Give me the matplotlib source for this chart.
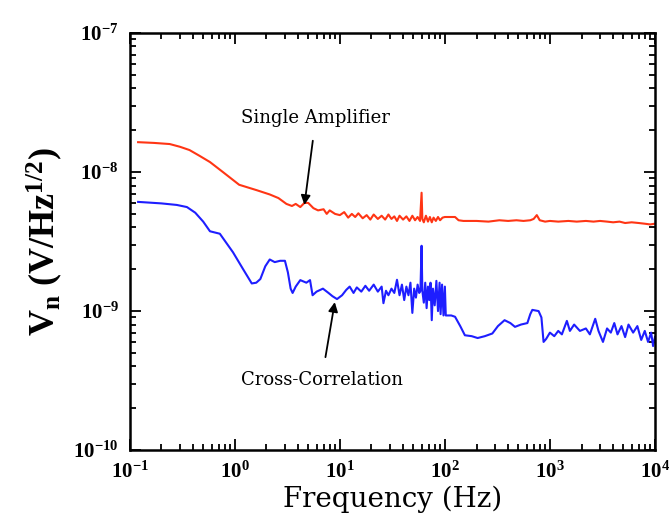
import math
import matplotlib
matplotlib.use('Agg')
import matplotlib.pyplot as plt
from matplotlib.ticker import LogLocator, FuncFormatter, NullFormatter

# Data (frequency in Hz, noise in V/Hz^1/2)
single_f = [0.12, 0.17, 0.24, 0.3, 0.37, 0.46, 0.58, 0.77, 1.1, 1.62, 2.15, 2.6, 3.1,
            3.5, 3.8, 4.2, 4.6, 5.0, 5.6, 6.2, 7.0, 7.5, 8.0, 9.0, 10, 11, 12, 13, 14,
            15, 16.5, 18, 19.5, 21, 23, 25, 27, 29, 31, 33, 35, 37, 40, 43, 46, 49, 52,
            55, 58, 60, 61, 63, 66, 69, 72, 75, 78, 82, 86, 90, 95, 100, 110, 125, 135,
            150, 200, 260, 330, 400, 480, 560, 650, 700, 750, 800, 900, 1000, 1200, 1500,
            1800, 2200, 2600, 3000, 3500, 4000, 4600, 5200, 6000, 7000, 8000, 9000, 10000]
single_v = [1.64e-8, 1.62e-8, 1.59e-8, 1.52e-8, 1.44e-8, 1.31e-8, 1.18e-8, 1.0e-8,
            8.1e-9, 7.4e-9, 6.9e-9, 6.5e-9, 5.9e-9, 5.7e-9, 5.9e-9, 5.6e-9,
            6.0e-9, 6.0e-9, 5.5e-9, 5.3e-9, 5.4e-9, 5.0e-9, 5.3e-9, 5.0e-9, 4.9e-9, 5.15e-9,
            4.7e-9, 5.0e-9, 4.75e-9, 5.05e-9, 4.65e-9, 4.9e-9, 4.55e-9, 4.95e-9, 4.6e-9, 4.85e-9,
            4.55e-9, 4.95e-9, 4.6e-9, 4.8e-9, 4.45e-9, 4.85e-9, 4.55e-9, 4.8e-9, 4.45e-9, 4.85e-9,
            4.5e-9, 4.75e-9, 4.45e-9, 7.1e-9, 4.6e-9, 4.35e-9, 4.85e-9, 4.4e-9, 4.75e-9, 4.35e-9,
            4.7e-9, 4.45e-9, 4.75e-9, 4.5e-9, 4.7e-9, 4.75e-9, 4.75e-9, 4.75e-9, 4.5e-9,
            4.45e-9, 4.45e-9, 4.4e-9, 4.5e-9, 4.45e-9, 4.5e-9, 4.45e-9, 4.5e-9, 4.6e-9,
            4.9e-9, 4.5e-9, 4.4e-9, 4.45e-9, 4.4e-9, 4.45e-9, 4.4e-9, 4.45e-9, 4.4e-9,
            4.45e-9, 4.4e-9, 4.35e-9, 4.4e-9, 4.3e-9, 4.35e-9, 4.3e-9, 4.25e-9, 4.2e-9,
            4.25e-9]

cross_f = [0.12, 0.2, 0.28, 0.35, 0.42, 0.5, 0.58, 0.72, 0.96, 1.2, 1.45, 1.6, 1.75, 1.95,
           2.15, 2.4, 2.7, 3.0, 3.2, 3.4, 3.55, 3.8, 4.2, 4.8, 5.2, 5.5, 6.0, 6.9, 7.8,
           8.5, 9.4, 10.5, 11.5, 12.4, 13.5, 14.5, 16, 17.5, 19, 21, 23, 25, 26, 27.5,
           29, 31, 33, 35, 37, 39, 41, 43, 45, 47, 49, 51, 53, 55, 57, 58.5, 60, 61, 63,
           65, 67, 69, 71, 73, 75, 77, 80, 83, 86, 89, 91, 94, 97, 100, 102, 115, 125,
           140, 155, 180, 205, 240, 283, 320, 370, 420, 465, 530, 610, 650, 680, 780,
           830, 870, 920, 1000, 1100, 1200, 1300, 1450, 1550, 1700, 1930, 2200, 2400,
           2700, 2900, 3200, 3500, 3800, 4100, 4400, 4800, 5200, 5600, 6200, 6800, 7400,
           8000, 8600, 9200, 9600, 10000]
cross_v = [6.1e-9, 5.95e-9, 5.8e-9, 5.6e-9, 5.1e-9, 4.4e-9, 3.75e-9, 3.6e-9, 2.65e-9,
           2.0e-9, 1.58e-9, 1.6e-9, 1.7e-9, 2.1e-9, 2.35e-9, 2.25e-9, 2.3e-9, 2.3e-9,
           1.9e-9, 1.45e-9, 1.35e-9, 1.5e-9, 1.67e-9, 1.6e-9, 1.67e-9, 1.3e-9, 1.38e-9,
           1.45e-9, 1.35e-9, 1.28e-9, 1.22e-9, 1.3e-9, 1.42e-9, 1.5e-9, 1.35e-9, 1.48e-9,
           1.38e-9, 1.52e-9, 1.4e-9, 1.55e-9, 1.38e-9, 1.5e-9, 1.14e-9, 1.4e-9, 1.3e-9,
           1.45e-9, 1.35e-9, 1.68e-9, 1.3e-9, 1.55e-9, 1.2e-9, 1.5e-9, 1.3e-9, 1.6e-9,
           0.97e-9, 1.45e-9, 1.25e-9, 1.55e-9, 1.35e-9, 1.4e-9, 2.95e-9, 1.4e-9, 1.15e-9,
           1.6e-9, 1.05e-9, 1.5e-9, 1.2e-9, 1.6e-9, 0.86e-9, 1.45e-9, 1.1e-9, 1.65e-9,
           1.0e-9, 1.6e-9, 0.95e-9, 1.55e-9, 0.93e-9, 1.5e-9, 0.93e-9, 0.93e-9, 0.91e-9,
           0.78e-9, 0.67e-9, 0.66e-9, 0.64e-9, 0.66e-9, 0.69e-9, 0.78e-9, 0.86e-9,
           0.82e-9, 0.77e-9, 0.8e-9, 0.82e-9, 0.95e-9, 1.02e-9, 1.0e-9, 0.9e-9, 0.6e-9,
           0.63e-9, 0.7e-9, 0.66e-9, 0.72e-9, 0.68e-9, 0.85e-9, 0.72e-9, 0.8e-9, 0.72e-9,
           0.75e-9, 0.68e-9, 0.88e-9, 0.72e-9, 0.6e-9, 0.75e-9, 0.7e-9, 0.82e-9, 0.68e-9,
           0.78e-9, 0.65e-9, 0.8e-9, 0.7e-9, 0.78e-9, 0.62e-9, 0.72e-9, 0.6e-9, 0.7e-9,
           0.56e-9, 0.65e-9]

plt.rcParams['font.family'] = ['Liberation Serif', 'DejaVu Serif']
plt.rcParams['mathtext.fontset'] = 'custom'
plt.rcParams['mathtext.rm'] = 'Liberation Serif'
plt.rcParams['mathtext.it'] = 'Liberation Serif'
plt.rcParams['mathtext.bf'] = 'Liberation Serif:bold'

fig = plt.figure(figsize=(6.69, 5.24), dpi=100)
ax = fig.add_axes([0.194, 0.141, 0.785, 0.796])

ax.plot(single_f, single_v, color='#ff3514', lw=1.5)
ax.plot(cross_f, cross_v, color='#1e1eff', lw=1.5)

ax.set_xscale('log')
ax.set_yscale('log')
ax.set_xlim(0.1, 1e4)
ax.set_ylim(1e-10, 1e-7)

ax.xaxis.set_major_locator(LogLocator(base=10, numticks=10))
ax.yaxis.set_major_locator(LogLocator(base=10, numticks=10))
ax.xaxis.set_minor_locator(LogLocator(base=10, subs=range(2, 10), numticks=20))
ax.yaxis.set_minor_locator(LogLocator(base=10, subs=range(2, 10), numticks=20))
fmt = FuncFormatter(lambda v, pos: r'$\mathbf{10^{%d}}$' % round(math.log10(v)))
ax.xaxis.set_major_formatter(fmt)
ax.yaxis.set_major_formatter(fmt)
ax.xaxis.set_minor_formatter(NullFormatter())
ax.yaxis.set_minor_formatter(NullFormatter())

ax.tick_params(which='both', direction='in', top=True, right=True, width=1.3)
ax.tick_params(which='major', length=8, labelsize=15, pad=8)
ax.tick_params(which='minor', length=4)
for s in ax.spines.values():
    s.set_linewidth(1.8)

ax.set_xlabel('Frequency (Hz)', fontsize=20, family='DejaVu Serif', labelpad=2)
ax.set_ylabel(r'V$_\mathbf{n}$ (V/Hz$^\mathbf{1/2}$)', fontsize=26, fontweight='bold',
              labelpad=6)

ax.annotate('Single Amplifier', xy=(4.6, 5.8e-9), xytext=(5.9, 2.45e-8),
            fontsize=13, family='DejaVu Serif', ha='center', va='center',
            arrowprops=dict(arrowstyle='-|>', color='black', lw=1.3,
                            mutation_scale=14, shrinkA=8, shrinkB=0))
ax.annotate('Cross-Correlation', xy=(8.95, 1.16e-9), xytext=(6.7, 3.2e-10),
            fontsize=13, family='DejaVu Serif', ha='center', va='center',
            arrowprops=dict(arrowstyle='-|>', color='black', lw=1.3,
                            mutation_scale=14, shrinkA=8, shrinkB=0))

fig.savefig('out.png', dpi=100)
